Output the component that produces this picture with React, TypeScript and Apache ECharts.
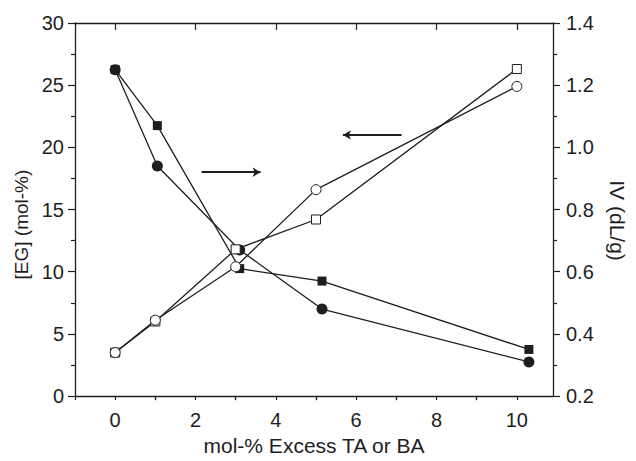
import React, { useEffect, useRef } from "react";
import * as echarts from "echarts";

// ---- data ----
const xOpen = [0, 1, 3, 5, 10];
const egOpenSquares = [3.5, 6.0, 11.8, 14.2, 26.3];
const egOpenCircles = [3.5, 6.1, 10.4, 16.6, 24.9];
const xFilled = [0, 1.05, 3.1, 5.15, 10.3];
const ivFilledSquares = [1.25, 1.07, 0.61, 0.57, 0.35];
const ivFilledCircles = [1.25, 0.94, 0.67, 0.48, 0.31];

const xTickLabels = [0, 2, 4, 6, 8, 10];
const xMinorTicks = [1, 3, 5, 7, 9];
const xAllTicks = [-1, 0, 1, 2, 3, 4, 5, 6, 7, 8, 9, 10];

// arrows (data coordinates on the EG axis)
const arrowRight = [[2.15, 18.0], [3.62, 18.0]];
const arrowLeft = [[7.13, 21.0], [5.67, 21.0]];

const INK = "#1e1e1e";
const FONT = "'Liberation Sans', Arial, Helvetica, sans-serif";

const zip = (xs: number[], ys: number[]) => xs.map((x, i) => [x, ys[i]]);

export default function App() {
  const ref = useRef<HTMLDivElement>(null);
  useEffect(() => {
    if (!ref.current) return;
    const chart = echarts.init(ref.current, null, { renderer: "svg" });
    const axisLine = { show: true, onZero: false, lineStyle: { color: INK, width: 1.3 } };
    const xBase = {
      type: "value",
      min: -1,
      max: 10.9,
      splitLine: { show: false },
    };
    const lineSeries = (
      name: string,
      data: number[][],
      yIdx: number,
      symbol: string,
      size: number,
      filled: boolean,
      extra: any = {}
    ) => ({
      name,
      type: "line",
      yAxisIndex: yIdx,
      data,
      symbol,
      symbolSize: size,
      showSymbol: true,
      lineStyle: { color: INK, width: 1.3 },
      itemStyle: {
        color: filled ? INK : "#ffffff",
        borderColor: INK,
        borderWidth: filled ? 0 : 1,
      },
      z: 3,
      ...extra,
    });
    const arrowMark = {
      silent: true,
      symbol: ["none", "arrow"],
      symbolSize: [7, 8],
      label: { show: false },
      lineStyle: { color: INK, width: 2, type: "solid" },
      data: [
        [{ coord: arrowRight[0] }, { coord: arrowRight[1] }],
        [{ coord: arrowLeft[0] }, { coord: arrowLeft[1] }],
      ],
    };
    chart.setOption({
      animation: false,
      backgroundColor: "#ffffff",
      textStyle: { fontFamily: FONT, color: INK },
      grid: { left: 75, right: 73, top: 23, bottom: 58, containLabel: false },
      xAxis: [
        {
          ...xBase,
          position: "bottom",
          name: "mol-% Excess TA or BA",
          nameLocation: "middle",
          nameGap: 37,
          nameTextStyle: { fontSize: 21, color: INK, fontFamily: FONT },
          axisLine,
          axisTick: { show: true, inside: false, length: 4, customValues: xAllTicks, lineStyle: { color: INK, width: 1.2 } },
          axisLabel: { show: true, customValues: xTickLabels, fontSize: 20, margin: 14, color: INK, fontFamily: FONT },
        },
        {
          ...xBase,
          position: "top",
          axisLine,
          axisTick: { show: true, inside: true, length: 7, customValues: xTickLabels, lineStyle: { color: INK, width: 1.2 } },
          axisLabel: { show: false },
        },
        {
          ...xBase,
          position: "top",
          axisLine: { show: false },
          axisTick: { show: true, inside: true, length: 4, customValues: xMinorTicks, lineStyle: { color: INK, width: 1.2 } },
          axisLabel: { show: false },
        },
      ],
      yAxis: [
        {
          type: "value",
          position: "left",
          min: 0,
          max: 30,
          interval: 5,
          name: "[EG] (mol-%)",
          nameLocation: "middle",
          nameGap: 20,
          nameRotate: 90,
          nameTextStyle: { fontSize: 19, color: INK, fontFamily: FONT, padding: [0, 30, 0, 0] },
          axisLine,
          splitLine: { show: false },
          axisTick: { show: true, inside: false, length: 7, lineStyle: { color: INK, width: 1.2 } },
          minorTick: { show: true, splitNumber: 2, length: 4, lineStyle: { color: INK, width: 1.2 } },
          axisLabel: { fontSize: 20, margin: 11, color: INK, fontFamily: FONT },
        },
        {
          type: "value",
          position: "right",
          min: 0.2,
          max: 1.4,
          interval: 0.2,
          name: "IV (dL/g)",
          nameLocation: "middle",
          nameGap: 54,
          nameRotate: -90,
          nameTextStyle: { fontSize: 21, color: INK, fontFamily: FONT, padding: [0, 0, 0, 22] },
          axisLine,
          splitLine: { show: false },
          axisTick: { show: true, inside: false, length: 7, lineStyle: { color: INK, width: 1.2 } },
          minorTick: { show: true, splitNumber: 2, length: 4, lineStyle: { color: INK, width: 1.2 } },
          axisLabel: {
            fontSize: 20,
            margin: 13,
            color: INK,
            fontFamily: FONT,
            formatter: (v: number) => v.toFixed(1),
          },
        },
      ],
      series: [
        lineSeries("IV filled squares", zip(xFilled, ivFilledSquares), 1, "rect", 9, true),
        lineSeries("IV filled circles", zip(xFilled, ivFilledCircles), 1, "circle", 11, true),
        lineSeries("EG open squares", zip(xOpen, egOpenSquares), 0, "rect", 9, false),
        lineSeries("EG open circles", zip(xOpen, egOpenCircles), 0, "circle", 10, false, { markLine: arrowMark }),
      ],
    });
    return () => chart.dispose();
  }, []);
  return (
    <div
      ref={ref}
      style={{ position: "fixed", left: 0, top: 0, width: 636, height: 461, background: "#fff" }}
    />
  );
}
